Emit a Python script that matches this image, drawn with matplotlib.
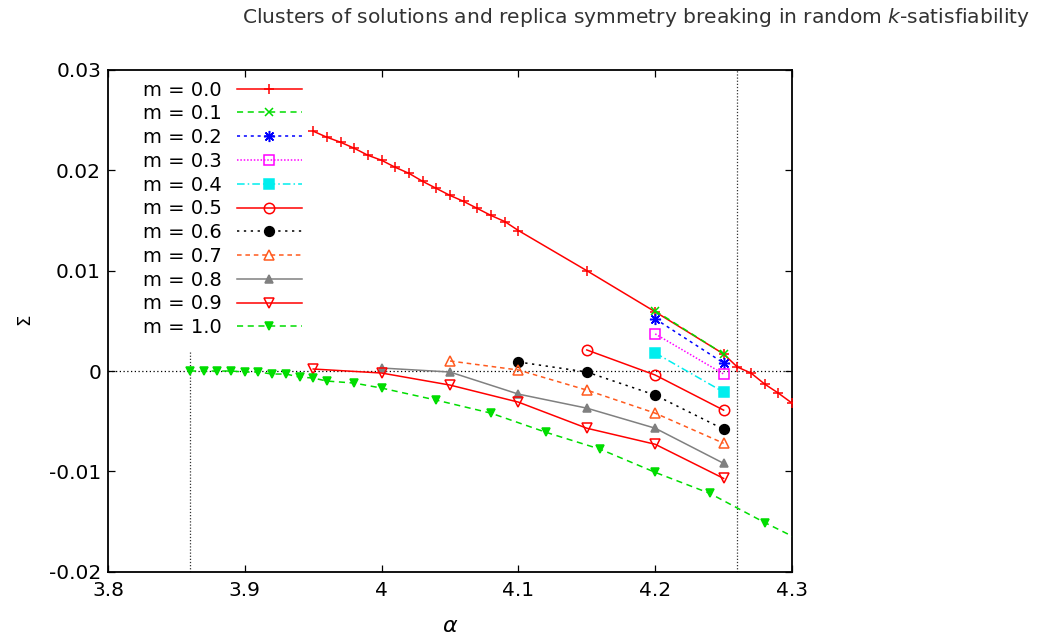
import matplotlib
matplotlib.use('Agg')
import matplotlib.pyplot as plt

# complexity Sigma(alpha) for several values of the Parisi parameter m
alpha_m00 = [3.95, 3.96, 3.97, 3.98, 3.99, 4.00, 4.01, 4.02, 4.03, 4.04, 4.05,
             4.06, 4.07, 4.08, 4.09, 4.10, 4.15, 4.20, 4.25, 4.26, 4.27, 4.28,
             4.29, 4.30]
sigma_m00 = [0.0239, 0.0233, 0.0228, 0.0222, 0.0215, 0.0210, 0.0203, 0.0197,
             0.0189, 0.0182, 0.0175, 0.0169, 0.0162, 0.0155, 0.0149, 0.0140,
             0.0100, 0.0059, 0.0017, 0.0004, -0.0002, -0.0013, -0.0022, -0.0032]

alpha_m01 = [4.20, 4.25]
sigma_m01 = [0.0060, 0.0017]

alpha_m02 = [4.20, 4.25]
sigma_m02 = [0.0052, 0.0008]

alpha_m03 = [4.20, 4.25]
sigma_m03 = [0.0037, -0.0003]

alpha_m04 = [4.20, 4.25]
sigma_m04 = [0.0018, -0.0021]

alpha_m05 = [4.15, 4.20, 4.25]
sigma_m05 = [0.0021, -0.0004, -0.0039]

alpha_m06 = [4.10, 4.15, 4.20, 4.25]
sigma_m06 = [0.0009, -0.0001, -0.0024, -0.0058]

alpha_m07 = [4.05, 4.10, 4.15, 4.20, 4.25]
sigma_m07 = [0.0010, 0.0001, -0.0019, -0.0042, -0.0072]

alpha_m08 = [4.00, 4.05, 4.10, 4.15, 4.20, 4.25]
sigma_m08 = [0.0003, -0.0001, -0.0023, -0.0037, -0.0057, -0.0092]

alpha_m09 = [3.95, 4.00, 4.05, 4.10, 4.15, 4.20, 4.25]
sigma_m09 = [0.0002, -0.0002, -0.0014, -0.0031, -0.0057, -0.0073, -0.0107]

alpha_m10 = [3.86, 3.87, 3.88, 3.89, 3.90, 3.91, 3.92, 3.93, 3.94, 3.95, 3.96,
             3.98, 4.00, 4.04, 4.08, 4.12, 4.16, 4.20, 4.24, 4.28, 4.32]
sigma_m10 = [0.0, 0.0, 0.0, 0.0, -0.0001, -0.0001, -0.0003, -0.0003, -0.0006,
             -0.0007, -0.0010, -0.0012, -0.0017, -0.0029, -0.0042, -0.0061,
             -0.0078, -0.0101, -0.0122, -0.0151, -0.0178]

# thresholds drawn as dotted vertical lines
alpha_d = 3.86
alpha_s = 4.26

x_ticks = [3.8, 3.9, 4.0, 4.1, 4.2, 4.3]
x_ticklabels = ['3.8', '3.9', '4', '4.1', '4.2', '4.3']
y_ticks = [-0.02, -0.01, 0.0, 0.01, 0.02, 0.03]
y_ticklabels = ['-0.02', '-0.01', '0', '0.01', '0.02', '0.03']

series = [
    (alpha_m00, sigma_m00, 'm = 0.0', '#ff0000', '-', '+', True, 7),
    (alpha_m01, sigma_m01, 'm = 0.1', '#00dd00', (0, (4, 3)), 'x', True, 6),
    (alpha_m02, sigma_m02, 'm = 0.2', '#0000ff', (0, (2, 2.5)), (8, 2, 0), True, 8),
    (alpha_m03, sigma_m03, 'm = 0.3', '#ff00ff', (0, (1, 1.2)), 's', False, 7),
    (alpha_m04, sigma_m04, 'm = 0.4', '#00eeee', (0, (5, 2, 1, 2)), 's', True, 7),
    (alpha_m05, sigma_m05, 'm = 0.5', '#ff0000', '-', 'o', False, 7.5),
    (alpha_m06, sigma_m06, 'm = 0.6', '#000000', (0, (1.5, 3)), 'o', True, 7),
    (alpha_m07, sigma_m07, 'm = 0.7', '#ff5a1e', (0, (3, 2.5)), '^', False, 7),
    (alpha_m08, sigma_m08, 'm = 0.8', '#808080', '-', '^', True, 6),
    (alpha_m09, sigma_m09, 'm = 0.9', '#ff0000', '-', 'v', False, 7),
    (alpha_m10, sigma_m10, 'm = 1.0', '#00dd00', (0, (4, 3)), 'v', True, 6),
]

plt.rcParams['font.family'] = 'DejaVu Sans'
plt.rcParams['axes.unicode_minus'] = False

fig = plt.figure(figsize=(10.4, 6.38), dpi=100)
ax = fig.add_axes([0.10385, 0.1039, 0.6577, 0.7864])

# reference lines
ax.axhline(0.0, color='black', lw=0.9, ls=(0, (1, 2)), zorder=1)
ax.plot([alpha_d, alpha_d], [-0.02, 0.002], color='#333333', lw=0.9, ls=(0, (1, 1.5)), zorder=1)
ax.axvline(alpha_s, color='#333333', lw=0.9, ls=(0, (1, 1.5)), zorder=1)

for x, y, name, col, ls, mk, filled, ms in series:
    ax.plot(x, y, color=col, ls=ls, lw=1.1, marker=mk, ms=ms,
            mfc=col if filled else 'none', mec=col, mew=1.1, label=name, zorder=3)

ax.set_xlim(3.8, 4.3)
ax.set_ylim(-0.02, 0.03)
ax.set_xticks(x_ticks)
ax.set_xticklabels(x_ticklabels)
ax.set_yticks(y_ticks)
ax.set_yticklabels(y_ticklabels)
ax.tick_params(direction='in', top=True, right=True, length=5, width=0.9,
               labelsize=14.5)
ax.tick_params(axis='x', pad=7)
ax.tick_params(axis='y', pad=5)
for sp in ax.spines.values():
    sp.set_linewidth(1.3)

ax.set_xlabel(r'$\alpha$', fontsize=16, labelpad=11)
ax.set_ylabel(r'$\Sigma$', fontsize=13, labelpad=10)

leg = ax.legend(loc='upper left', bbox_to_anchor=(143 / 1040, 1 - 80.5 / 638),
                bbox_transform=fig.transFigure, frameon=False, markerfirst=False,
                fontsize=14, borderpad=0, borderaxespad=0, handlelength=3.34,
                handletextpad=0.77, labelspacing=0.245)

fig.text(0.991, 0.972, r'Clusters of solutions and replica symmetry breaking in random $k$-satisfiability',
         ha='right', va='center', fontsize=14.6, color='#333333')

fig.savefig('out.png', dpi=100)
